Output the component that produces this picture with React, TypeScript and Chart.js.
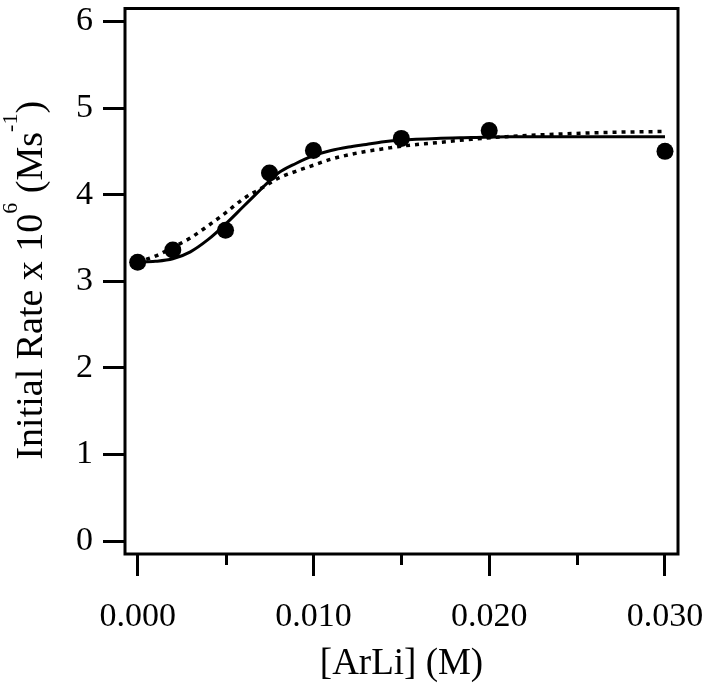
import React, { useEffect, useRef } from "react";
import { Chart, registerables } from "chart.js";

Chart.register(...registerables);

// Measured data points: [ArLi] (M) vs initial rate x 10^6 (M/s)
const X_DATA = [0, 0.002, 0.005, 0.0075, 0.01, 0.015, 0.02, 0.03];
const Y_DATA = [3.22, 3.36, 3.59, 4.25, 4.51, 4.65, 4.74, 4.5];

// Solid fit curve
const FIT_X = [0, 0.001, 0.002, 0.003, 0.004, 0.005, 0.006, 0.007, 0.0075, 0.008, 0.009, 0.01, 0.011, 0.012, 0.013, 0.014, 0.015, 0.017, 0.019, 0.021, 0.024, 0.027, 0.03];
const FIT_Y = [3.22, 3.23, 3.26, 3.34, 3.48, 3.66, 3.86, 4.06, 4.16, 4.25, 4.36, 4.45, 4.51, 4.55, 4.58, 4.61, 4.63, 4.65, 4.66, 4.67, 4.67, 4.67, 4.67];

// Dotted fit curve
const DOT_X = [0, 0.001, 0.002, 0.003, 0.004, 0.005, 0.006, 0.007, 0.008, 0.009, 0.01, 0.011, 0.012, 0.013, 0.014, 0.015, 0.017, 0.019, 0.021, 0.024, 0.027, 0.03];
const DOT_Y = [3.22, 3.29, 3.39, 3.5, 3.64, 3.79, 3.95, 4.07, 4.19, 4.27, 4.34, 4.41, 4.46, 4.5, 4.53, 4.56, 4.6, 4.64, 4.67, 4.7, 4.72, 4.73];

const X_TICKS = [0, 0.01, 0.02, 0.03];
const X_TICK_LABELS = ["0.000", "0.010", "0.020", "0.030"];
const X_MINOR_TICKS = [0.005, 0.015, 0.025];
const Y_TICKS = [0, 1, 2, 3, 4, 5, 6];
const Y_TICK_LABELS = ["0", "1", "2", "3", "4", "5", "6"];

const X_TITLE = "[ArLi] (M)";
const Y_TITLE_PARTS = [
  { text: "Initial Rate x 10", sup: false },
  { text: "6", sup: true },
  { text: " (Ms", sup: false },
  { text: "-1", sup: true },
  { text: ")", sup: false },
];

const FONT = "'Liberation Serif', 'DejaVu Serif', serif";

const framePlugin = {
  id: "frameAndExtras",
  afterDraw(chart: any) {
    const { ctx, chartArea } = chart;
    const xs = chart.scales.x;
    ctx.save();
    // frame
    ctx.strokeStyle = "#000";
    ctx.lineWidth = 3;
    ctx.strokeRect(chartArea.left, chartArea.top, chartArea.right - chartArea.left, chartArea.bottom - chartArea.top);
    // minor x ticks
    ctx.beginPath();
    for (const v of X_MINOR_TICKS) {
      const px = Math.round(xs.getPixelForValue(v)) + 0.5;
      ctx.moveTo(px, chartArea.bottom);
      ctx.lineTo(px, chartArea.bottom + 11);
    }
    ctx.stroke();
    // y title with superscripts
    const mainFont = `38px ${FONT}`;
    const supFont = `22px ${FONT}`;
    const widths = Y_TITLE_PARTS.map((p) => {
      ctx.font = p.sup ? supFont : mainFont;
      return ctx.measureText(p.text).width;
    });
    const total = widths.reduce((a, b) => a + b, 0);
    const cy = (chartArea.top + chartArea.bottom) / 2 - 1;
    ctx.translate(42, cy);
    ctx.rotate(-Math.PI / 2);
    ctx.fillStyle = "#000";
    ctx.textBaseline = "alphabetic";
    ctx.textAlign = "left";
    let x = -total / 2;
    Y_TITLE_PARTS.forEach((p, i) => {
      ctx.font = p.sup ? supFont : mainFont;
      ctx.fillText(p.text, x, p.sup ? -25 : 0);
      x += widths[i];
    });
    ctx.restore();
  },
};

const zeroPad = (s: any) => {
  s.paddingLeft = 0;
  s.paddingRight = 0;
  s.paddingTop = 0;
  s.paddingBottom = 0;
};

export default function App() {
  const canvasRef = useRef<HTMLCanvasElement | null>(null);

  useEffect(() => {
    if (!canvasRef.current) return;
    const chart = new Chart(canvasRef.current, {
      type: "scatter",
      data: {
        datasets: [
          {
            label: "data",
            data: X_DATA.map((x, i) => ({ x, y: Y_DATA[i] })),
            showLine: false,
            pointRadius: 8.5,
            pointBackgroundColor: "#000",
            pointBorderWidth: 0,
            order: 0,
          },
          {
            label: "fit",
            data: FIT_X.map((x, i) => ({ x, y: FIT_Y[i] })),
            showLine: true,
            borderColor: "#000",
            borderWidth: 3,
            pointRadius: 0,
            cubicInterpolationMode: "monotone",
            order: 1,
          },
          {
            label: "fit2",
            data: DOT_X.map((x, i) => ({ x, y: DOT_Y[i] })),
            showLine: true,
            borderColor: "#000",
            borderWidth: 3.5,
            borderDash: [4, 5],
            pointRadius: 0,
            cubicInterpolationMode: "monotone",
            order: 2,
          },
        ],
      } as any,
      options: {
        animation: false,
        responsive: false,
        devicePixelRatio: 1,
        layout: { padding: { top: 2, right: 26, left: 0, bottom: 0 } },
        plugins: { legend: { display: false }, tooltip: { enabled: false } },
        scales: {
          x: {
            type: "linear",
            min: -0.00072,
            max: 0.03074,
            border: { display: false },
            grid: { display: true, drawOnChartArea: false, drawTicks: true, tickLength: 22, tickWidth: 3, tickColor: "#000" },
            afterBuildTicks: (s: any) => {
              s.ticks = X_TICKS.map((v) => ({ value: v }));
            },
            afterFit: (s: any) => {
              s.height = 132;
              zeroPad(s);
            },
            ticks: {
              color: "#000",
              padding: 21,
              maxRotation: 0,
              autoSkip: false,
              font: { family: FONT, size: 34 },
              callback: (v: any) => {
                const i = X_TICKS.indexOf(Number(v));
                return i >= 0 ? X_TICK_LABELS[i] : "";
              },
            },
            title: {
              display: true,
              text: X_TITLE,
              color: "#000",
              font: { family: FONT, size: 37 },
              padding: { top: 0, bottom: 0 },
            },
          },
          y: {
            type: "linear",
            min: -0.15,
            max: 6.15,
            border: { display: false },
            grid: { display: true, drawOnChartArea: false, drawTicks: true, tickLength: 22, tickWidth: 3, tickColor: "#000" },
            afterBuildTicks: (s: any) => {
              s.ticks = Y_TICKS.map((v) => ({ value: v }));
            },
            afterFit: (s: any) => {
              s.width = 125;
              zeroPad(s);
            },
            ticks: {
              color: "#000",
              padding: 10,
              font: { family: FONT, size: 34 },
              callback: (v: any) => {
                const i = Y_TICKS.indexOf(Number(v));
                return i >= 0 ? Y_TICK_LABELS[i] : "";
              },
            },
          },
        },
      } as any,
      plugins: [framePlugin],
    });
    return () => chart.destroy();
  }, []);

  return (
    <div style={{ position: "absolute", left: 0, top: 0, width: 704, height: 686, background: "#fff" }}>
      <canvas ref={canvasRef} width={704} height={686} style={{ display: "block" }} />
    </div>
  );
}
